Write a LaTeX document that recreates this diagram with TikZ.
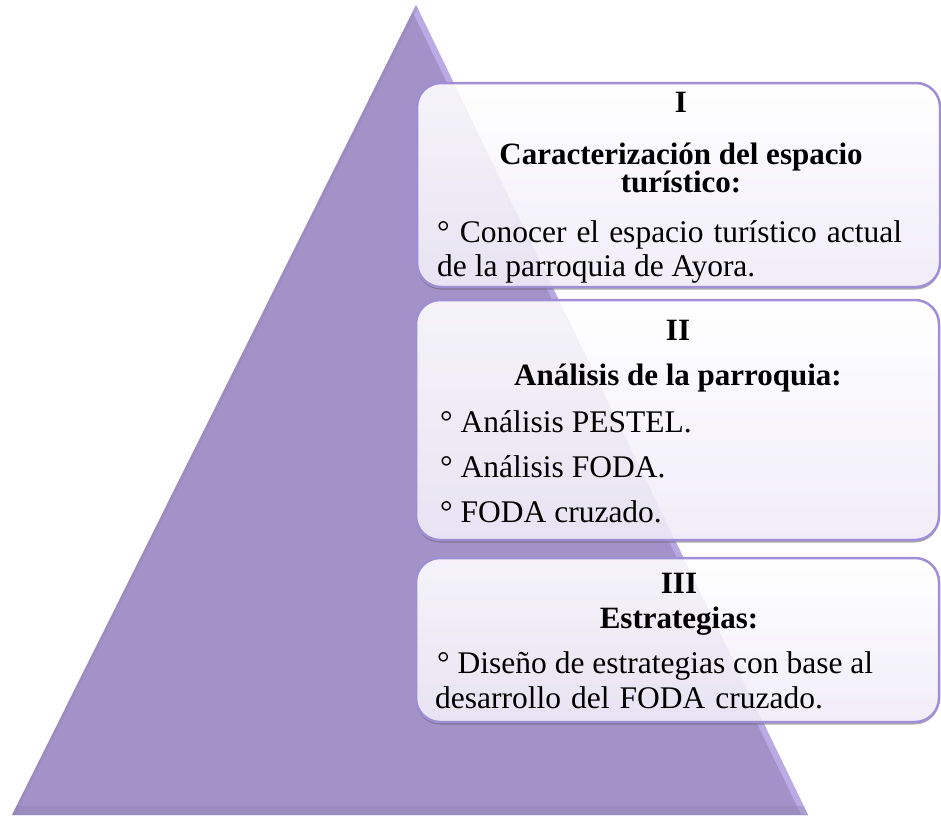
\documentclass[tikz,border=0pt]{standalone}
\usepackage{fontspec}
\setmainfont{Liberation Serif}
\usetikzlibrary{shadows}
\definecolor{trifill}{HTML}{A392C8}
\definecolor{trilight}{HTML}{C4B6F2}
\definecolor{tridark}{HTML}{8E7FAE}
\definecolor{boxline}{HTML}{A08ED6}
\definecolor{boxbottom}{HTML}{F0EDF8}
\tikzset{
  stepbox/.style={draw=boxline, line width=2.5pt, rounded corners=24pt,
    top color=white, bottom color=boxbottom,
    drop shadow={shadow xshift=0pt, shadow yshift=-2.5pt, opacity=0.45, fill=black!70},
    inner sep=0pt, minimum width=523pt},
  hd/.style={font=\fontsize{31}{34}\selectfont\bfseries, anchor=base, inner sep=0pt, text=black},
  tx/.style={font=\fontsize{31.5}{34}\selectfont, anchor=base west, inner sep=0pt, text=black}
}
\begin{document}
\begin{tikzpicture}[x=1pt,y=-1pt]
\useasboundingbox (0,0) rectangle (941,816);
% pyramid
\coordinate (apex) at (416,5);
\coordinate (bl) at (12,815);
\coordinate (br) at (808,815);
\fill[trifill] (apex) -- (bl) -- (br) -- cycle;
\begin{scope}
  \clip (apex) -- (bl) -- (br) -- cycle;
  \draw[trilight, line width=12pt, opacity=0.7] (apex) -- (br);
  \draw[tridark, line width=6pt, opacity=0.3] (apex) -- (bl);
  \fill[tridark, opacity=0.35] (0,806) rectangle (941,816);
\end{scope}
% boxes
\node[stepbox, minimum height=204pt] (b1) at (678.5,185) {};
\node[stepbox, minimum height=240pt] (b2) at (677.5,420) {};
\node[stepbox, minimum height=164pt] (b3) at (677.5,640) {};
% faint glass show-through of the pyramid
\begin{scope}
  \clip (416,83) rectangle (941,725);
  \fill[trifill, opacity=0.1] (apex) -- (bl) -- (br) -- cycle;
\end{scope}
% box 1 texts
\node[hd] (h1) at (681,112) {I};
\node[hd] (h1a) at (681,164) {Caracterización del espacio};
\node[hd] (h1b) at (681,192) {turístico:};
\node[tx] (l1a) at (437,242) {\spaceskip=10pt ° Conocer el espacio turístico actual};
\node[tx] (l1b) at (437,276) {de la parroquia de Ayora.};
% box 2 texts
\node[hd] (h2) at (678,340) {II};
\node[hd] (h2a) at (678,385) {Análisis de la parroquia:};
\node[tx] (l2a) at (440,432) {° Análisis PESTEL.};
\node[tx] (l2b) at (440,477) {° Análisis FODA.};
\node[tx] (l2c) at (440,522) {° FODA cruzado.};
% box 3 texts
\node[hd] (h3) at (679,593) {III};
\node[hd] (h3a) at (679,628) {Estrategias:};
\node[tx] (l3a) at (437,673) {° Diseño de estrategias con base al};
\node[tx] (l3b) at (435,708) {\spaceskip=10pt desarrollo del FODA cruzado.};
\end{tikzpicture}
\end{document}
